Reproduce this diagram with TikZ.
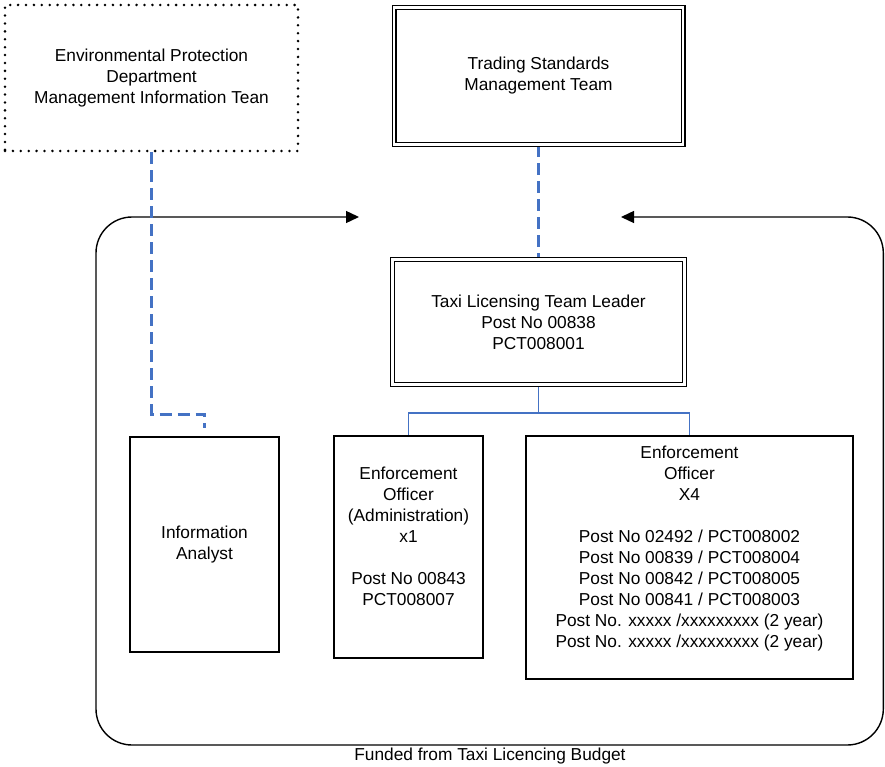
\documentclass[tikz,border=0pt]{standalone}
\usepackage{fontspec}
\setmainfont{Liberation Sans}
\usetikzlibrary{arrows.meta,backgrounds}
\definecolor{wordblue}{RGB}{68,114,196}
\tikzset{
  x=1pt,y=1pt,
  txt/.style={font=\fontsize{17.3}{21}\selectfont, align=center},
  plainbox/.style={txt, draw=black, line width=1.3pt, fill=white, inner sep=0pt},
  dblbox/.style={txt, draw=black, line width=1.2pt, double=white, double distance=2.6pt, fill=white, inner sep=0pt},
  dotbox/.style={txt, draw=black, line width=2.8pt, line cap=round, dash pattern=on 0pt off 7.9pt, inner sep=0pt},
  bluedash/.style={draw=wordblue, line width=2.4pt, dash pattern=on 12pt off 6pt},
  blueline/.style={draw=wordblue, line width=1.3pt},
  frame/.style={draw=black, line width=1.4pt, rounded corners=36pt, {Triangle[length=13pt,width=12pt]}-{Triangle[length=13pt,width=12pt]}}
}
\begin{document}
\begin{tikzpicture}
\useasboundingbox (0,0) rectangle (885,-767);
% frame
\coordinate (fa) at (359,-217);
\coordinate (fb) at (621,-217);
\draw[frame] (fa) -- (96,-217) -- (96,-745) -- (883.3,-745) -- (883.3,-217) -- (fb);
\node[txt] (funded) at (490,-756) {Funded from Taxi Licencing Budget};
% boxes
\node[dotbox, minimum width=293, minimum height=146] (epd) at (151.5,-78)
  {Environmental Protection\\Department\\Management Information Tean};
\node[dblbox, minimum width=289, minimum height=137] (trad) at (538.5,-76)
  {Trading Standards\\Management Team};
\node[dblbox, minimum width=292, minimum height=125] (taxi) at (538.5,-322)
  {Taxi Licensing Team Leader\\Post No 00838\\PCT008001};
\node[plainbox, minimum width=149, minimum height=215] (info) at (204.5,-544.5)
  {Information\\Analyst};
\node[plainbox, minimum width=149, minimum height=222] (admin) at (408.5,-547)
  {Enforcement\\Officer\\(Administration)\\x1\\ \mbox{}\\Post No 00843\\PCT008007\\ \mbox{}};
\node[plainbox, minimum width=327, minimum height=243] (x4) at (689.5,-557.5)
  {Enforcement\\Officer\\X4\\ \mbox{}\\Post No 02492 / PCT008002\\Post No 00839 / PCT008004\\Post No 00842 / PCT008005\\Post No 00841 / PCT008003\\Post No. xxxxx /xxxxxxxxx (2 year)\\Post No. xxxxx /xxxxxxxxx (2 year)\\ \mbox{}};
% connectors
\begin{pgfonlayer}{background}
\draw[blueline] (taxi.south) -- ++(0,-28) -| (admin.north);
\draw[blueline] (taxi.south) -- ++(0,-28) -| (x4.north);
\draw[bluedash] (trad.south) -- (taxi.north);
\end{pgfonlayer}
\draw[bluedash] (epd.south) -- ++(0,-262) -| ([yshift=8pt]info.north);
\end{tikzpicture}
\end{document}
